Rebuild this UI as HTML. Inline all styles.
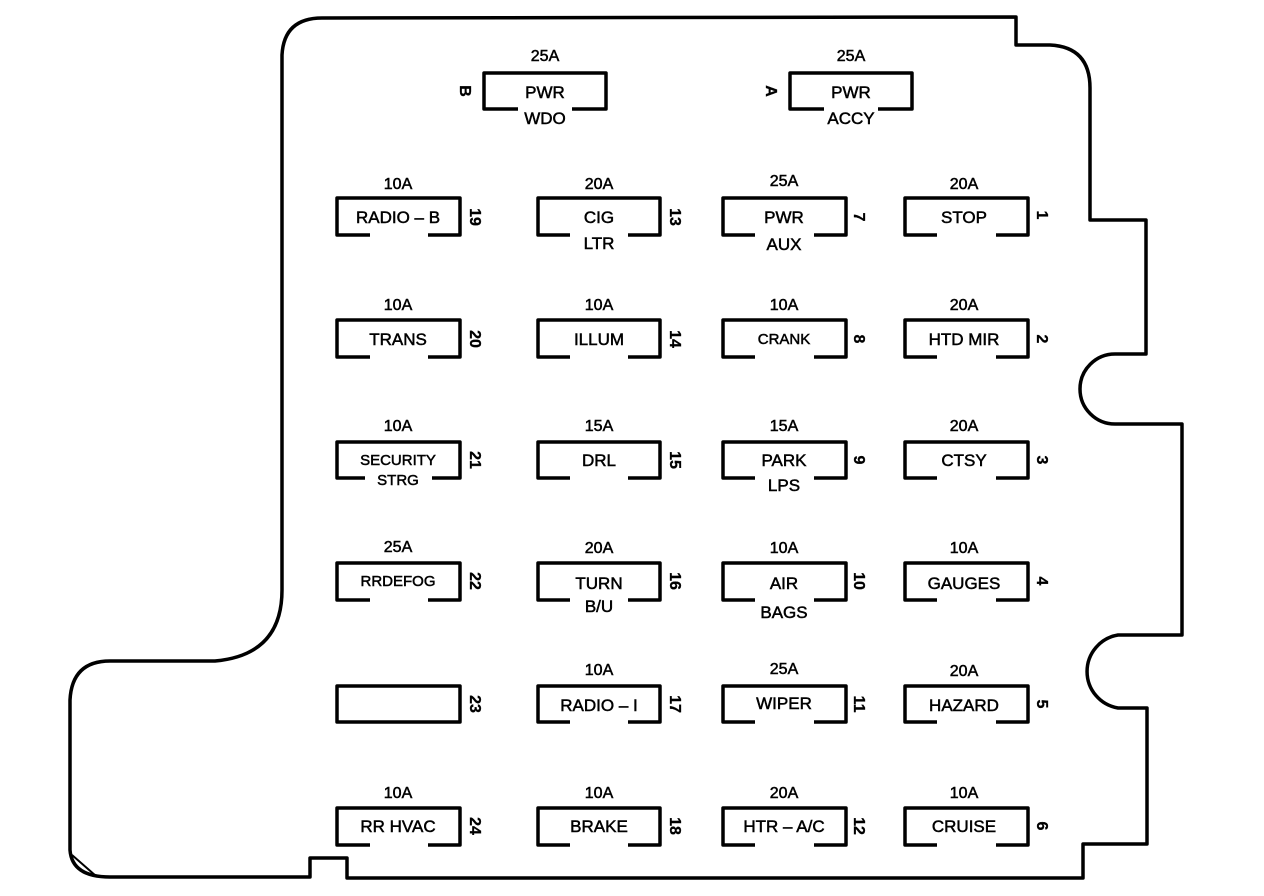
<!DOCTYPE html>
<html><head><meta charset="utf-8"><style>
html,body{margin:0;padding:0;background:#fff;}
svg{display:block}
text{font-family:"Liberation Sans",sans-serif;fill:#000;stroke:#000;stroke-width:0.5;font-size:17px;text-anchor:middle;}
.a{font-size:16px}
.n{font-size:16px;font-weight:bold;stroke-width:0.3}
.s{font-size:15px}
</style></head><body>
<svg width="1264" height="896" viewBox="0 0 1264 896" xmlns="http://www.w3.org/2000/svg">
<g fill="none" stroke="#000" stroke-width="3.5" stroke-linejoin="round">
<path d="M1016 17 V45 H1050 Q1090 47 1090 88 V220 H1146 V354 H1115 A35 35 0 0 0 1115 424 H1182 V635 H1118 A37 37 0 0 0 1118 708 H1147 V844 H1083 V878 H347 V858 H310 V877 H110 Q72 877 70 850 V700 Q72 661 110 661 H215 Q282 655 282 590 V55 Q284 18 322 18 Z"/>
<path d="M72 855 L96 876" stroke-width="2"/>
<path d="M518 109 H484 V73 H606 V109 H572"/>
<path d="M824 109 H790 V73 H912 V109 H878"/>
<path d="M370 235 H337 V198 H460 V235 H428"/>
<path d="M370 357 H337 V320 H460 V357 H428"/>
<path d="M365 478 H337 V442 H460 V478 H432"/>
<path d="M370 600 H337 V563 H460 V600 H428"/>
<path d="M337 686 H460 V722 H337 Z"/>
<path d="M370 845 H337 V808 H460 V845 H428"/>
<path d="M570 235 H538 V198 H660 V235 H628"/>
<path d="M570 357 H538 V320 H660 V357 H628"/>
<path d="M570 478 H538 V442 H660 V478 H628"/>
<path d="M570 600 H538 V563 H660 V600 H628"/>
<path d="M570 722 H538 V686 H660 V722 H628"/>
<path d="M570 845 H538 V808 H660 V845 H628"/>
<path d="M755 235 H723 V198 H846 V235 H814"/>
<path d="M755 357 H723 V320 H846 V357 H814"/>
<path d="M755 478 H723 V442 H846 V478 H814"/>
<path d="M755 600 H723 V563 H846 V600 H814"/>
<path d="M755 722 H723 V686 H846 V722 H814"/>
<path d="M755 845 H723 V808 H846 V845 H814"/>
<path d="M937 235 H905 V198 H1028 V235 H996"/>
<path d="M937 357 H905 V320 H1028 V357 H996"/>
<path d="M937 478 H905 V442 H1028 V478 H996"/>
<path d="M937 600 H905 V563 H1028 V600 H996"/>
<path d="M937 722 H905 V686 H1028 V722 H996"/>
<path d="M937 845 H905 V808 H1028 V845 H996"/>
</g>

<text class="a" x="545" y="61">25A</text><text x="545" y="98">PWR</text><text x="545" y="124">WDO</text>
<text class="n" transform="translate(466,91) rotate(90)" dy="6">B</text>
<text class="a" x="851" y="61">25A</text><text x="851" y="98">PWR</text><text x="851" y="124">ACCY</text>
<text class="n" transform="translate(772,91) rotate(90)" dy="6">A</text>

<text class="a" x="398" y="189">10A</text><text x="398" y="223">RADIO – B</text>
<text class="n" transform="translate(476,217) rotate(90)" dy="6">19</text>
<text class="a" x="398" y="310">10A</text><text x="398" y="345">TRANS</text>
<text class="n" transform="translate(476,339) rotate(90)" dy="6">20</text>
<text class="a" x="398" y="431">10A</text><text class="s" x="398" y="465">SECURITY</text><text class="s" x="398" y="485">STRG</text>
<text class="n" transform="translate(476,460) rotate(90)" dy="6">21</text>
<text class="a" x="398" y="552">25A</text><text class="s" x="398" y="586">RRDEFOG</text>
<text class="n" transform="translate(476,581) rotate(90)" dy="6">22</text>
<text class="n" transform="translate(476,704) rotate(90)" dy="6">23</text>
<text class="a" x="398" y="798">10A</text><text x="398" y="832">RR HVAC</text>
<text class="n" transform="translate(476,826) rotate(90)" dy="6">24</text>

<text class="a" x="599" y="189">20A</text><text x="599" y="223">CIG</text><text x="599" y="249">LTR</text>
<text class="n" transform="translate(676,217) rotate(90)" dy="6">13</text>
<text class="a" x="599" y="310">10A</text><text x="599" y="345">ILLUM</text>
<text class="n" transform="translate(676,339) rotate(90)" dy="6">14</text>
<text class="a" x="599" y="431">15A</text><text x="599" y="466">DRL</text>
<text class="n" transform="translate(676,460) rotate(90)" dy="6">15</text>
<text class="a" x="599" y="553">20A</text><text x="599" y="589">TURN</text><text x="599" y="612">B/U</text>
<text class="n" transform="translate(676,581) rotate(90)" dy="6">16</text>
<text class="a" x="599" y="675">10A</text><text x="599" y="711">RADIO – I</text>
<text class="n" transform="translate(676,704) rotate(90)" dy="6">17</text>
<text class="a" x="599" y="798">10A</text><text x="599" y="832">BRAKE</text>
<text class="n" transform="translate(676,826) rotate(90)" dy="6">18</text>

<text class="a" x="784" y="186">25A</text><text x="784" y="223">PWR</text><text x="784" y="250">AUX</text>
<text class="n" transform="translate(860,217) rotate(90)" dy="6">7</text>
<text class="a" x="784" y="310">10A</text><text class="s" x="784" y="344">CRANK</text>
<text class="n" transform="translate(860,339) rotate(90)" dy="6">8</text>
<text class="a" x="784" y="431">15A</text><text x="784" y="466">PARK</text><text x="784" y="491">LPS</text>
<text class="n" transform="translate(860,460) rotate(90)" dy="6">9</text>
<text class="a" x="784" y="553">10A</text><text x="784" y="589">AIR</text><text x="784" y="618">BAGS</text>
<text class="n" transform="translate(860,581) rotate(90)" dy="6">10</text>
<text class="a" x="784" y="674">25A</text><text x="784" y="709">WIPER</text>
<text class="n" transform="translate(860,704) rotate(90)" dy="6">11</text>
<text class="a" x="784" y="798">20A</text><text x="784" y="832">HTR – A/C</text>
<text class="n" transform="translate(860,826) rotate(90)" dy="6">12</text>

<text class="a" x="964" y="189">20A</text><text x="964" y="223">STOP</text>
<text class="n" transform="translate(1043,215) rotate(90)" dy="6">1</text>
<text class="a" x="964" y="310">20A</text><text x="964" y="345">HTD MIR</text>
<text class="n" transform="translate(1043,339) rotate(90)" dy="6">2</text>
<text class="a" x="964" y="431">20A</text><text x="964" y="466">CTSY</text>
<text class="n" transform="translate(1043,460) rotate(90)" dy="6">3</text>
<text class="a" x="964" y="553">10A</text><text x="964" y="589">GAUGES</text>
<text class="n" transform="translate(1043,581) rotate(90)" dy="6">4</text>
<text class="a" x="964" y="676">20A</text><text x="964" y="711">HAZARD</text>
<text class="n" transform="translate(1043,704) rotate(90)" dy="6">5</text>
<text class="a" x="964" y="798">10A</text><text x="964" y="832">CRUISE</text>
<text class="n" transform="translate(1043,826) rotate(90)" dy="6">6</text>
</svg>
</body></html>
